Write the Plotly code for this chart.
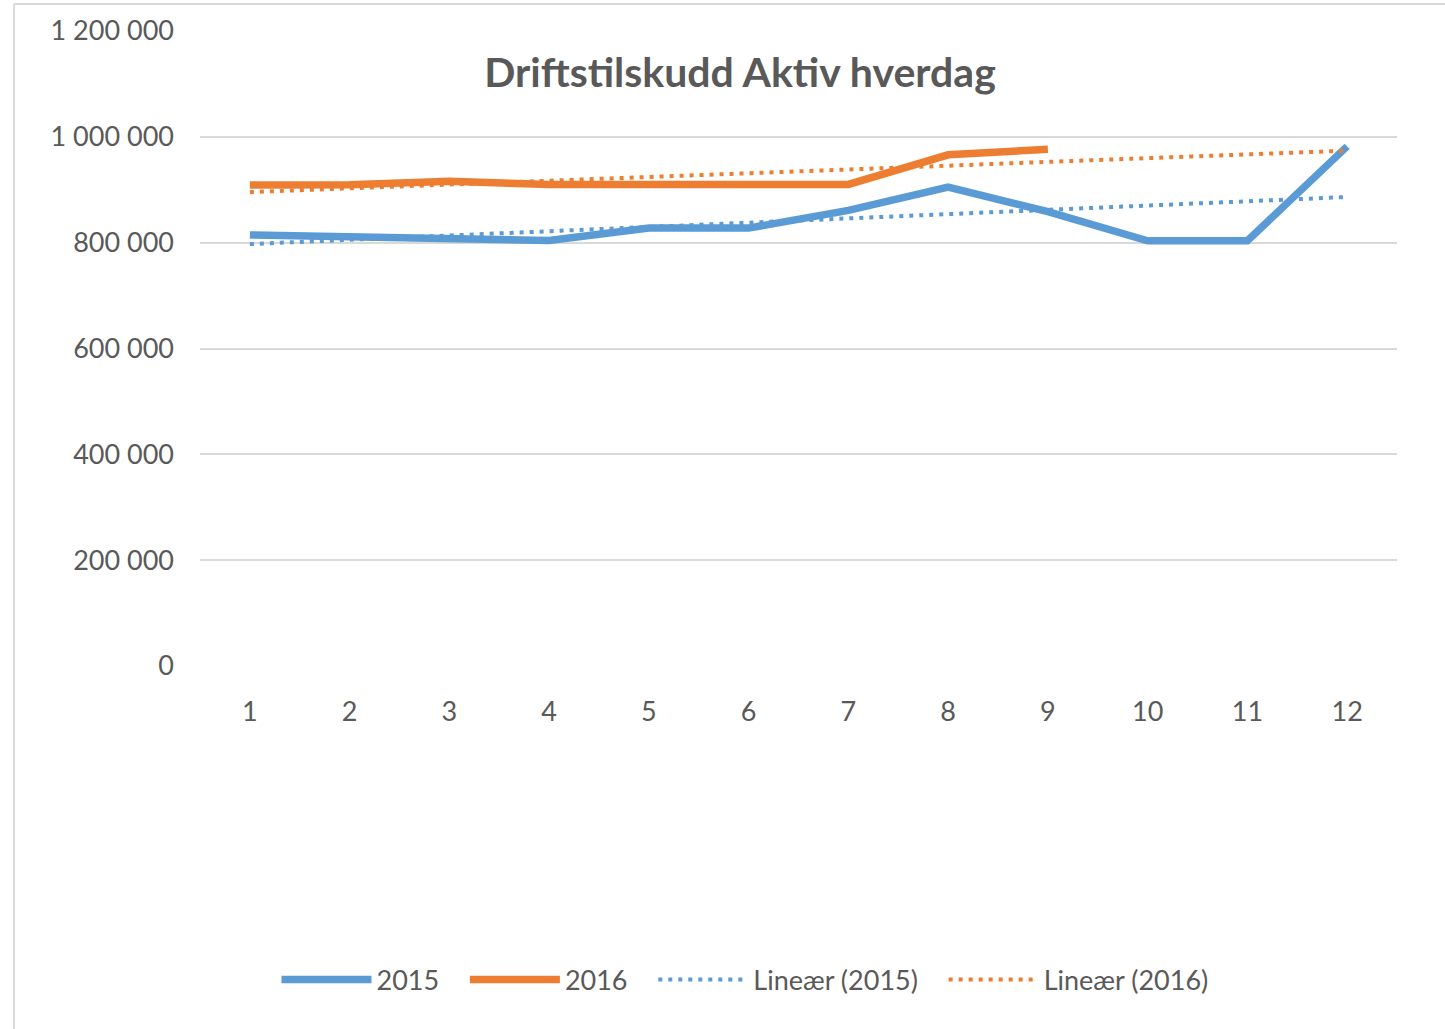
import numpy as np
import plotly.graph_objects as go

months = list(range(1, 13))
values_2015 = [814500, 810000, 805000, 804000, 827500, 827500, 861000, 905000, 858500, 803500, 803500, 982000]
months_2016 = list(range(1, 10))
values_2016 = [909000, 909500, 916000, 910000, 910000, 910000, 910000, 966000, 976500]
y_ticks = [0, 200000, 400000, 600000, 800000, 1000000, 1200000]
series_names = ["2015", "2016", "Lineær (2015)", "Lineær (2016)"]

# Linear trendlines (least squares), as Excel computes them
c15 = np.polyfit(months, values_2015, 1)
trend_2015 = np.polyval(c15, months)
c16 = np.polyfit(months_2016, values_2016, 1)
trend_2016 = np.polyval(c16, months)  # forecast extended to month 12

BLUE = "#5B9BD5"
ORANGE = "#ED7D31"
GREY = "#595959"
FONT = "Lato, Noto Sans, sans-serif"
PAD = "\u00a0" * 3  # legend spacing

fig = go.Figure()
fig.add_trace(go.Scatter(x=months, y=values_2015, mode="lines", name=series_names[0] + PAD,
                         line=dict(color=BLUE, width=7.5)))
fig.add_trace(go.Scatter(x=months_2016, y=values_2016, mode="lines", name=series_names[1] + PAD,
                         line=dict(color=ORANGE, width=7.5)))
fig.add_trace(go.Scatter(x=months, y=trend_2015, mode="lines", name=series_names[2] + PAD,
                         line=dict(color=BLUE, width=4, dash="4px,6px")))
fig.add_trace(go.Scatter(x=months, y=trend_2016, mode="lines", name=series_names[3],
                         line=dict(color=ORANGE, width=4, dash="4px,6px")))

W, H = 1445, 1029
L, R, T, B = 200, W - 1397, 31, H - 666
pw = W - L - R
ph = H - T - B

fig.update_layout(
    width=W, height=H,
    margin=dict(l=L, r=R, t=T, b=B),
    paper_bgcolor="white", plot_bgcolor="white",
    separators=", ",
    font=dict(family=FONT, color=GREY, size=27),
    title=dict(text="<b>Driftstilskudd Aktiv hverdag</b>", x=740 / W, xanchor="center",
               y=1 - 73 / H, yanchor="middle", font=dict(size=41, color=GREY, family=FONT)),
    xaxis=dict(range=[0.5, 12.5], tickmode="array", tickvals=months, ticktext=[str(m) for m in months],
               showgrid=False, zeroline=False, showline=False, ticks="",
               ticklabelstandoff=27, tickfont=dict(size=27, color=GREY)),
    yaxis=dict(range=[0, 1200000], tickmode="array", tickvals=y_ticks, tickformat=",d",
               showgrid=True, gridcolor="#D9D9D9", gridwidth=2, zeroline=False,
               showline=False, ticks="", ticklabelstandoff=25,
               tickfont=dict(size=27, color=GREY)),
    legend=dict(orientation="h", x=(745 - L) / pw, xanchor="center", y=(666 - 980) / ph, yanchor="middle",
                font=dict(size=27, color=GREY), itemwidth=90, bgcolor="rgba(0,0,0,0)"),
    showlegend=True,
)

# chart border (left and top edges visible)
bx = (14 - L) / pw
by = (666 - 4) / ph
fig.add_shape(type="line", xref="paper", yref="paper", x0=bx, x1=bx, y0=by, y1=-B / ph - 0.02,
              line=dict(color="#D9D9D9", width=2))
fig.add_shape(type="line", xref="paper", yref="paper", x0=bx, x1=(W - L) / pw + 0.02, y0=by, y1=by,
              line=dict(color="#D9D9D9", width=2))

fig.write_html("out.html", config={"displayModeBar": False},
               post_script="document.body.style.margin='0';")
